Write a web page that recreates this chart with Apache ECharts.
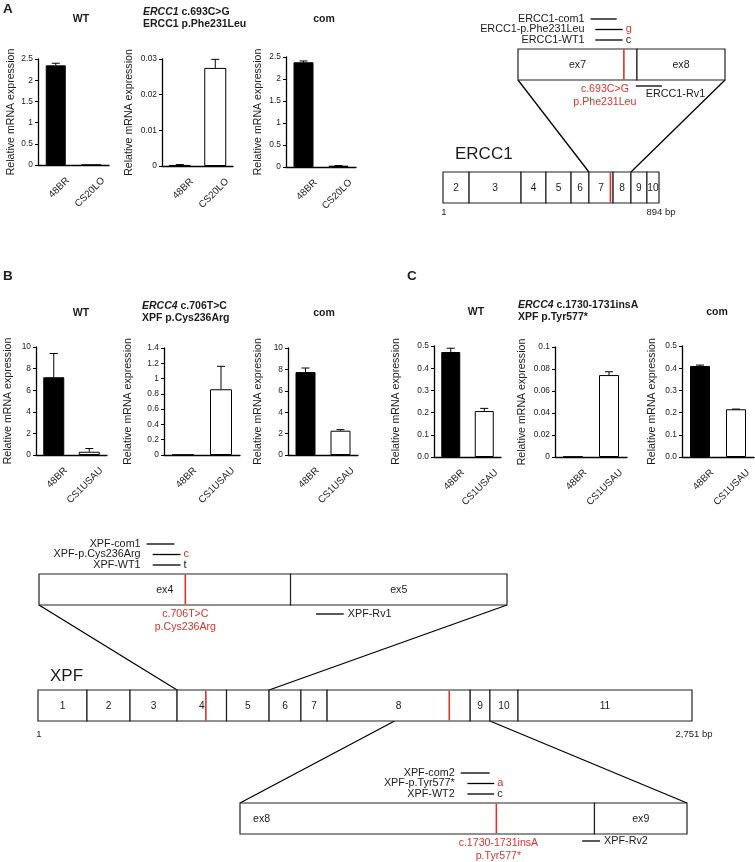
<!DOCTYPE html>
<html>
<head>
<meta charset="utf-8">
<script src="https://cdn.jsdelivr.net/npm/echarts@6.0.0/dist/echarts.min.js"></script>
<style>
html,body{margin:0;padding:0;background:#fff;}
#chart{width:755px;height:862px;}
</style>
</head>
<body>
<div id="chart"></div>
<script>
// ================= DATA =================
const ercc1Lines = ['48BR', 'CS20LO'];
const xpfLines = ['48BR', 'CS1USAU'];

const ercc1WT = [2.35, 0.002];
const ercc1WTErr = [0.05, 0];
const ercc1Mutant = [0.0003, 0.0275];
const ercc1MutantErr = [0.0001, 0.0024];
const ercc1Com = [2.38, 0.03];
const ercc1ComErr = [0.03, 0.004];

const cys236WT = [7.2, 0.3];
const cys236WTErr = [2.2, 0.3];
const cys236Mutant = [0.003, 0.86];
const cys236MutantErr = [0, 0.3];
const cys236Com = [7.75, 2.27];
const cys236ComErr = [0.38, 0.1];

const tyr577WT = [0.473, 0.207];
const tyr577WTErr = [0.017, 0.012];
const tyr577Mutant = [0.0003, 0.0745];
const tyr577MutantErr = [0, 0.003];
const tyr577Com = [0.41, 0.215];
const tyr577ComErr = [0.004, 0.001];

// y-axis ranges (max, step)
const axisMax = [2.5, 0.03, 2.5, 10, 1.4, 10, 0.5, 0.1, 0.5];
const axisStep = [0.5, 0.01, 0.5, 2, 0.2, 2, 0.1, 0.02, 0.1];

// ERCC1 gene structure (bp)
const ercc1Exons = ['2', '3', '4', '5', '6', '7', '8', '9', '10'];
const ercc1ExonEnd = [108, 323, 426, 530, 604, 704, 778, 844, 894];
const ercc1Length = 894;
const ercc1Mut = 693;
const ercc1ZoomExons = ['ex7', 'ex8'];
const ercc1ZoomBounds = [604, 704, 778];
const ercc1Primers = ['ERCC1-com1', 'ERCC1-p.Phe231Leu', 'ERCC1-WT1'];
const ercc1PrimerFrom = [665, 669, 669];
const ercc1PrimerTo = [687, 692, 692];
const ercc1Alleles = ['', 'g', 'c'];
const ercc1MutLabels = ['c.693C>G', 'p.Phe231Leu'];
const ercc1RevName = 'ERCC1-Rv1';
const ercc1RevRange = [703, 725];

// XPF gene structure (bp)
const xpfExons = ['1', '2', '3', '4', '5', '6', '7', '8', '9', '10', '11'];
const xpfExonEnd = [206, 387, 585, 793, 972, 1106, 1216, 1818, 1901, 2019, 2751];
const xpfLength = 2751;
const xpfMuts = [706, 1730];

const xpfZoom1Exons = ['ex4', 'ex5'];
const xpfZoom1Bounds = [585, 793, 972];
const xpfZoom1Primers = ['XPF-com1', 'XPF-p.Cys236Arg', 'XPF-WT1'];
const xpfZoom1From = [674, 679, 679];
const xpfZoom1To = [697, 702, 702];
const xpfZoom1Alleles = ['', 'c', 't'];
const xpfZoom1MutLabels = ['c.706T>C', 'p.Cys236Arg'];
const xpfZoom1RevName = 'XPF-Rv1';
const xpfZoom1RevRange = [814, 837];

const xpfZoom2Exons = ['ex8', 'ex9'];
const xpfZoom2Bounds = [1500, 1818, 1901];
const xpfZoom2Primers = ['XPF-com2', 'XPF-p.Tyr577*', 'XPF-WT2'];
const xpfZoom2From = [1698, 1704, 1704];
const xpfZoom2To = [1724, 1728, 1728];
const xpfZoom2Alleles = ['', 'a', 'c'];
const xpfZoom2MutLabels = ['c.1730-1731insA', 'p.Tyr577*'];
const xpfZoom2RevName = 'XPF-Rv2';
const xpfZoom2RevRange = [1807, 1823];

// ================= RENDER =================
const chart = echarts.init(document.getElementById('chart'));
const FF = '"Liberation Sans", Arial, Helvetica, sans-serif';
const RED = '#d5352e';
const INK = '#1b1b1b';
function font(size, weight, style) {
  return [style, weight, size + 'px', FF].filter(Boolean).join(' ');
}
function TS(text, x, y, size, align, o) {
  o = o || {};
  const s = {
    text: text, x: x, y: y, font: font(size, o.weight, o.style),
    fill: o.fill || INK, align: align || 'left', textAlign: align || 'left',
    verticalAlign: o.v || 'middle', textVerticalAlign: o.v || 'middle'
  };
  if (o.rich) s.rich = o.rich;
  return s;
}

const panels = [
  {cats: ercc1Lines, v: ercc1WT, e: ercc1WTErr, g: [38, 59, 71, 106], bw: 20, gap: 21},
  {cats: ercc1Lines, v: ercc1Mutant, e: ercc1MutantErr, g: [162, 59, 71, 107], bw: 22, gap: 27},
  {cats: ercc1Lines, v: ercc1Com, e: ercc1ComErr, g: [286, 57, 70, 110], bw: 20, gap: 22},
  {cats: xpfLines, v: cys236WT, e: cys236WTErr, g: [36, 347, 71, 108], bw: 21, gap: 22},
  {cats: xpfLines, v: cys236Mutant, e: cys236MutantErr, g: [164, 348, 76, 107], bw: 22, gap: 30},
  {cats: xpfLines, v: cys236Com, e: cys236ComErr, g: [288, 348, 70, 107], bw: 20, gap: 24},
  {cats: xpfLines, v: tyr577WT, e: tyr577WTErr, g: [434, 346, 67, 111], bw: 19, gap: 32, fmt1: true},
  {cats: xpfLines, v: tyr577Mutant, e: tyr577MutantErr, g: [555, 347, 72, 110], bw: 20, gap: 27},
  {cats: xpfLines, v: tyr577Com, e: tyr577ComErr, g: [682, 346, 72, 111], bw: 20, gap: 24, fmt1: true}
];

function errRender(params, api) {
  const x = api.value(0), v = api.value(1), e = api.value(2);
  if (!(e > 0)) return;
  const a = api.coord([x, v]), b = api.coord([x, v + e]);
  return {type: 'group', children: [
    {type: 'line', shape: {x1: a[0], y1: a[1], x2: b[0], y2: b[1]}, style: {stroke: '#000', lineWidth: 1}},
    {type: 'line', shape: {x1: b[0] - 4, y1: b[1], x2: b[0] + 4, y2: b[1]}, style: {stroke: '#000', lineWidth: 1}}
  ]};
}

const grids = [], xAxes = [], yAxes = [], series = [];
panels.forEach(function (p, i) {
  grids.push({left: p.g[0], top: p.g[1], width: p.g[2], height: p.g[3], containLabel: false, outerBoundsMode: 'none'});
  xAxes.push({
    type: 'category', gridIndex: i, data: p.cats,
    axisLine: {show: true, lineStyle: {color: '#000', width: 1.3}},
    axisTick: {show: false},
    axisLabel: {rotate: 45, interval: 0, fontSize: 9.8, fontFamily: FF, color: INK, margin: 2,
      verticalAlign: 'top', padding: [12, 0, 0, 0]},
    splitLine: {show: false}
  });
  const yl = {fontSize: 8.4, fontFamily: FF, color: INK, margin: 5};
  if (p.fmt1) yl.formatter = function (v) { return v.toFixed(1); };
  yAxes.push({
    type: 'value', gridIndex: i, min: 0, max: axisMax[i], interval: axisStep[i],
    name: 'Relative mRNA expression', nameLocation: 'middle', nameGap: p.gap,
    nameTextStyle: {fontSize: 10.6, fontFamily: FF, color: INK},
    axisLine: {show: true, lineStyle: {color: '#000', width: 1.3}},
    axisTick: {show: true, length: 3, lineStyle: {color: '#000', width: 1}},
    axisLabel: yl, splitLine: {show: false}
  });
  series.push({
    type: 'bar', xAxisIndex: i, yAxisIndex: i, barWidth: p.bw, silent: true,
    data: p.v.map(function (v, k) {
      return {value: v, itemStyle: {color: k === 0 ? '#000' : '#fff', borderColor: '#000', borderWidth: 1}};
    })
  });
  series.push({
    type: 'custom', xAxisIndex: i, yAxisIndex: i, z: 5, silent: true,
    data: p.v.map(function (v, k) { return [k, v, p.e[k]]; }),
    renderItem: errRender
  });
});

// diagram grids
const dgrids = [
  {g: [443, 172, 216, 31], r: [0, ercc1Length]},
  {g: [518, 49, 207, 31], r: [ercc1ZoomBounds[0], ercc1ZoomBounds[2]]},
  {g: [39, 574, 468, 31], r: [xpfZoom1Bounds[0], xpfZoom1Bounds[2]]},
  {g: [38, 690, 654, 31], r: [0, xpfLength]},
  {g: [240, 803, 447, 31], r: [xpfZoom2Bounds[0], xpfZoom2Bounds[2]]}
];
const G_EG = 9, G_EZ = 10, G_XZ1 = 11, G_XG = 12, G_XZ2 = 13;
dgrids.forEach(function (d, j) {
  const gi = 9 + j;
  grids.push({left: d.g[0], top: d.g[1], width: d.g[2], height: d.g[3], containLabel: false, outerBoundsMode: 'none'});
  xAxes.push({type: 'value', gridIndex: gi, min: d.r[0], max: d.r[1], show: false});
  yAxes.push({type: 'value', gridIndex: gi, min: 0, max: 1, show: false});
});

function exonSeries(gi, starts, ends, names, fsize, leftFirst) {
  return {
    type: 'custom', xAxisIndex: gi, yAxisIndex: gi, silent: true, z: 2,
    data: starts.map(function (s, k) { return [s, ends[k]]; }),
    renderItem: function (params, api) {
      const a = api.coord([api.value(0), 1]);
      const b = api.coord([api.value(1), 0]);
      const lf = leftFirst && params.dataIndex === 0;
      return {type: 'group', children: [
        {type: 'rect', shape: {x: a[0], y: a[1], width: b[0] - a[0], height: b[1] - a[1]},
          style: {fill: '#fff', stroke: '#222', lineWidth: 1.2}},
        {type: 'text', style: TS(names[params.dataIndex], lf ? a[0] + 13 : (a[0] + b[0]) / 2, (a[1] + b[1]) / 2 + 0.5, fsize, lf ? 'left' : 'center')}
      ]};
    }
  };
}
function mutSeries(gi, positions, labels, labelShift) {
  return {
    type: 'custom', xAxisIndex: gi, yAxisIndex: gi, silent: true, z: 3,
    data: positions.map(function (p) { return [p]; }),
    renderItem: function (params, api) {
      const a = api.coord([api.value(0), 1]);
      const b = api.coord([api.value(0), 0]);
      const ch = [{type: 'line', shape: {x1: a[0], y1: a[1] + 0.6, x2: b[0], y2: b[1] - 0.6}, style: {stroke: RED, lineWidth: 1.6}}];
      if (labels) {
        const lx = b[0] + (labelShift || 0);
        ch.push({type: 'text', style: TS(labels[0], lx, b[1] + 9.5, 10.6, 'center', {fill: RED})});
        ch.push({type: 'text', style: TS(labels[1], lx, b[1] + 22, 10.6, 'center', {fill: RED})});
      }
      return {type: 'group', children: ch};
    }
  };
}
const ROW_OFF = [-30, -19.5, -9];
function primerSeries(gi, names, from, to, alleles) {
  return {
    type: 'custom', xAxisIndex: gi, yAxisIndex: gi, silent: true, z: 3,
    data: from.map(function (f, k) { return [f, to[k]]; }),
    renderItem: function (params, api) {
      const k = params.dataIndex;
      const a = api.coord([api.value(0), 1]);
      const b = api.coord([api.value(1), 1]);
      const y = a[1] + ROW_OFF[k];
      const nameRight = api.coord([from[0], 1])[0] - 6;
      const ch = [
        {type: 'line', shape: {x1: a[0], y1: y, x2: b[0], y2: y}, style: {stroke: '#000', lineWidth: 1.3}},
        {type: 'text', style: TS(names[k], nameRight, y, 10.8, 'right')}
      ];
      if (alleles[k]) ch.push({type: 'text', style: TS(alleles[k], b[0] + 3, y - 0.5, 11, 'left', {fill: k === 1 ? RED : INK})});
      return {type: 'group', children: ch};
    }
  };
}
function revSeries(gi, name, range, dy, below) {
  return {
    type: 'custom', xAxisIndex: gi, yAxisIndex: gi, silent: true, z: 3,
    data: [[range[0], range[1]]],
    renderItem: function (params, api) {
      const a = api.coord([api.value(0), 0]);
      const b = api.coord([api.value(1), 0]);
      const y = a[1] + dy;
      return {type: 'group', children: [
        {type: 'line', shape: {x1: a[0], y1: y, x2: b[0], y2: y}, style: {stroke: '#000', lineWidth: 1.3}},
        {type: 'text', style: below ? TS(name, a[0] + 10, y + 8.5, 10.8, 'left') : TS(name, b[0] + 4, y, 10.8, 'left')}
      ]};
    }
  };
}
function endSeries(gi, length, dy) {
  return {
    type: 'custom', xAxisIndex: gi, yAxisIndex: gi, silent: true, z: 3,
    data: [[0], [length]],
    renderItem: function (params, api) {
      const a = api.coord([api.value(0), 0]);
      const t = params.dataIndex === 0 ? '1' : length.toLocaleString('en-US') + ' bp';
      return {type: 'text', style: TS(t, a[0] + (params.dataIndex === 0 ? 1 : 2), a[1] + dy, 9.5, 'center')};
    }
  };
}
function startsOf(ends, first) { return [first].concat(ends.slice(0, -1)); }

// ERCC1
series.push(exonSeries(G_EG, startsOf(ercc1ExonEnd, 0), ercc1ExonEnd, ercc1Exons, 10.2, false));
series.push(mutSeries(G_EG, [ercc1Mut], null));
series.push(endSeries(G_EG, ercc1Length, 9));
series.push(exonSeries(G_EZ, ercc1ZoomBounds.slice(0, 2), ercc1ZoomBounds.slice(1), ercc1ZoomExons, 10.6, false));
series.push(mutSeries(G_EZ, [ercc1Mut], ercc1MutLabels, -19));
series.push(primerSeries(G_EZ, ercc1Primers, ercc1PrimerFrom, ercc1PrimerTo, ercc1Alleles));
series.push(revSeries(G_EZ, ercc1RevName, ercc1RevRange, 6, true));
// XPF
series.push(exonSeries(G_XG, startsOf(xpfExonEnd, 0), xpfExonEnd, xpfExons, 10.2, false));
series.push(mutSeries(G_XG, xpfMuts, null));
series.push(endSeries(G_XG, xpfLength, 13.5));
series.push(exonSeries(G_XZ1, xpfZoom1Bounds.slice(0, 2), xpfZoom1Bounds.slice(1), xpfZoom1Exons, 10.6, false));
series.push(mutSeries(G_XZ1, [xpfMuts[0]], xpfZoom1MutLabels, 0));
series.push(primerSeries(G_XZ1, xpfZoom1Primers, xpfZoom1From, xpfZoom1To, xpfZoom1Alleles));
series.push(revSeries(G_XZ1, xpfZoom1RevName, xpfZoom1RevRange, 9, false));
series.push(exonSeries(G_XZ2, xpfZoom2Bounds.slice(0, 2), xpfZoom2Bounds.slice(1), xpfZoom2Exons, 10.6, true));
series.push(mutSeries(G_XZ2, [xpfMuts[1]], xpfZoom2MutLabels, 2));
series.push(primerSeries(G_XZ2, xpfZoom2Primers, xpfZoom2From, xpfZoom2To, xpfZoom2Alleles));
series.push(revSeries(G_XZ2, xpfZoom2RevName, xpfZoom2RevRange, 7, false));

chart.setOption({
  animation: false,
  backgroundColor: '#fff',
  grid: grids, xAxis: xAxes, yAxis: yAxes, series: series
});

// connecting lines (zoom boxes <-> gene)
function P(g, x, y) { return chart.convertToPixel({gridIndex: g}, [x, y]); }
const links = [
  [P(G_EZ, ercc1ZoomBounds[0], 0), P(G_EG, ercc1ZoomBounds[0], 1)],
  [P(G_EZ, ercc1ZoomBounds[2], 0), P(G_EG, ercc1ZoomBounds[2], 1)],
  [P(G_XZ1, xpfZoom1Bounds[0], 0), P(G_XG, xpfZoom1Bounds[0], 1)],
  [P(G_XZ1, xpfZoom1Bounds[2], 0), P(G_XG, xpfZoom1Bounds[2], 1)],
  [P(G_XG, xpfZoom2Bounds[0], 0), P(G_XZ2, xpfZoom2Bounds[0], 1)],
  [P(G_XG, xpfZoom2Bounds[2], 0), P(G_XZ2, xpfZoom2Bounds[2], 1)]
];
const gfx = links.map(function (l) {
  return {type: 'line', silent: true, z: 1, shape: {x1: l[0][0], y1: l[0][1], x2: l[1][0], y2: l[1][1]}, style: {stroke: '#000', lineWidth: 1.3}};
});
function gtext(text, x, y, size, align, o) {
  return {type: 'text', silent: true, z: 10, style: TS(text, x, y, size, align, o)};
}
const ital = {i: {fontStyle: 'italic', fontWeight: 'bold', fontSize: 10.5, fontFamily: FF, fill: INK}};
gfx.push(
  gtext('A', 3, 9, 13.5, 'left', {weight: 'bold'}),
  gtext('B', 3, 276, 13.5, 'left', {weight: 'bold'}),
  gtext('C', 407, 276, 13.5, 'left', {weight: 'bold'}),
  gtext('WT', 81, 19, 10.5, 'center', {weight: 'bold'}),
  gtext('{i|ERCC1} c.693C>G', 143, 12, 10.5, 'left', {weight: 'bold', rich: ital}),
  gtext('ERCC1 p.Phe231Leu', 143, 24, 10.5, 'left', {weight: 'bold'}),
  gtext('com', 324, 19, 10.5, 'center', {weight: 'bold'}),
  gtext('WT', 81, 313, 10.5, 'center', {weight: 'bold'}),
  gtext('{i|ERCC4} c.706T>C', 142, 306, 10.5, 'left', {weight: 'bold', rich: ital}),
  gtext('XPF p.Cys236Arg', 142, 318, 10.5, 'left', {weight: 'bold'}),
  gtext('com', 324, 313, 10.5, 'center', {weight: 'bold'}),
  gtext('WT', 476, 312, 10.5, 'center', {weight: 'bold'}),
  gtext('{i|ERCC4} c.1730-1731insA', 518, 305, 10.5, 'left', {weight: 'bold', rich: ital}),
  gtext('XPF p.Tyr577*', 518, 317, 10.5, 'left', {weight: 'bold'}),
  gtext('com', 717, 312, 10.5, 'center', {weight: 'bold'}),
  gtext('ERCC1', 455, 154, 17, 'left'),
  gtext('XPF', 50, 676, 17, 'left')
);
chart.setOption({graphic: gfx});
</script>
</body>
</html>
